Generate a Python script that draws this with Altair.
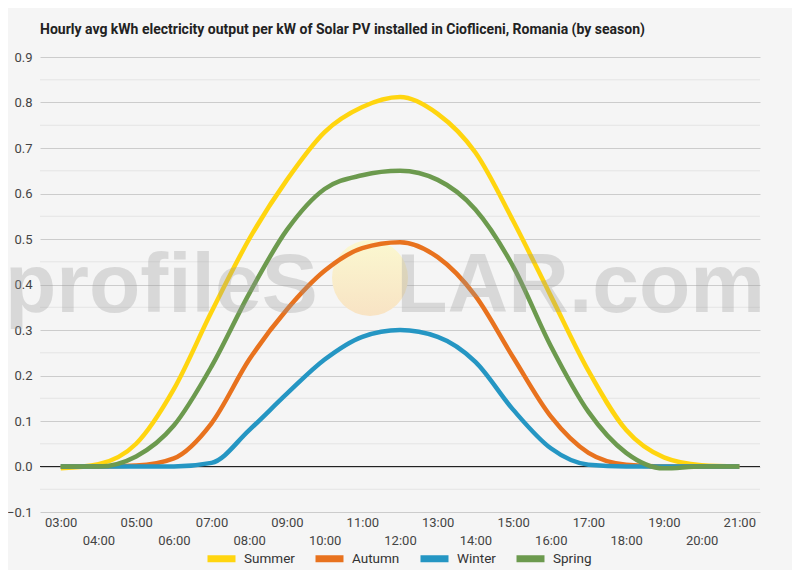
import altair as alt
import pandas as pd

hours = ["03:00", "04:00", "05:00", "06:00", "07:00", "08:00", "09:00", "10:00",
         "11:00", "12:00", "13:00", "14:00", "15:00", "16:00", "17:00", "18:00",
         "19:00", "20:00", "21:00"]
summer = [-0.004, 0.005, 0.05, 0.17, 0.34, 0.50, 0.63, 0.735, 0.79, 0.812,
          0.775, 0.69, 0.54, 0.375, 0.21, 0.08, 0.02, 0.003, 0.0]
autumn = [0.0, 0.0, 0.002, 0.018, 0.095, 0.235, 0.345, 0.43, 0.48, 0.493,
          0.46, 0.375, 0.24, 0.11, 0.03, 0.004, 0.0, 0.0, 0.0]
winter = [0.0, 0.0, 0.0, 0.0, 0.008, 0.08, 0.16, 0.235, 0.285, 0.30,
          0.285, 0.23, 0.125, 0.04, 0.004, 0.0, 0.0, 0.0, 0.0]
spring = [0.0, 0.0, 0.022, 0.09, 0.22, 0.38, 0.52, 0.61, 0.64, 0.65,
          0.63, 0.565, 0.44, 0.265, 0.12, 0.03, -0.004, 0.0, 0.0]

seasons = ["Summer", "Autumn", "Winter", "Spring"]
colors = ["#FFD50F", "#E8721E", "#2596C3", "#6C9A4E"]

major_ticks = [-0.1, 0.0, 0.1, 0.2, 0.3, 0.4, 0.5, 0.6, 0.7, 0.8, 0.9]
minor_ticks = [-0.05, 0.05, 0.15, 0.25, 0.35, 0.45, 0.55, 0.65, 0.75, 0.85]

rows = []
for name, vals in zip(seasons, [summer, autumn, winter, spring]):
    for h, v in zip(hours, vals):
        rows.append({"hour": h, "value": v, "season": name})
df = pd.DataFrame(rows)

y_scale = alt.Scale(domain=[-0.1, 0.9], nice=False, zero=False)

minor = alt.Chart(pd.DataFrame({"v": minor_ticks})).mark_rule(
    color="#e4e4e4", strokeWidth=1
).encode(y=alt.Y("v:Q", scale=y_scale))

zero = alt.Chart(pd.DataFrame({"v": [0.0]})).mark_rule(
    color="#222222", strokeWidth=1
).encode(y=alt.Y("v:Q", scale=y_scale))

sun_fill = alt.Gradient(
    gradient="linear",
    stops=[alt.GradientStop(color="#fbf8d0", offset=0),
           alt.GradientStop(color="#f8e3c4", offset=1)],
    x1=0, x2=0, y1=0, y2=1,
)
sun = alt.Chart(pd.DataFrame({"a": [0]})).mark_point(
    shape="circle", filled=True, size=5776, fill=sun_fill, opacity=1, strokeOpacity=0
).encode(x=alt.value(330), y=alt.value(221))

lines = alt.Chart(df).mark_line(strokeWidth=4.5, interpolate="monotone").encode(
    x=alt.X(
        "hour:N", sort=hours, scale=alt.Scale(padding=0.55),
        axis=alt.Axis(
            title=None, labelAngle=0, ticks=False, domain=False, grid=False,
            labelExpr="parseInt(substring(datum.value,0,2)) % 2 == 0 ? ['', datum.label] : datum.label",
            labelOverlap=False, labelFont="Roboto", labelFontSize=13,
            labelColor="#444444", labelPadding=4, labelLineHeight=18,
        ),
    ),
    y=alt.Y(
        "value:Q", scale=y_scale,
        axis=alt.Axis(
            title=None, values=major_ticks, format=".1f", grid=True,
            gridColor="#cccccc", ticks=False, domain=False, labelPadding=8,
            labelFont="Roboto", labelFontSize=13, labelColor="#444444",
        ),
    ),
    color=alt.Color(
        "season:N", sort=seasons,
        scale=alt.Scale(domain=seasons, range=colors),
        legend=alt.Legend(
            title=None, orient="none", direction="horizontal",
            legendX=164, legendY=484,
            symbolType="stroke", symbolStrokeWidth=7, symbolSize=784,
            labelFont="Roboto", labelFontSize=13.5, labelColor="#333333",
            labelOffset=5, columnPadding=6,
        ),
    ),
    detail="season:N",
)

wm_left = alt.Chart(pd.DataFrame({"a": [0]})).mark_text(
    text="profileS", font="Liberation Sans", fontWeight="bold", fontSize=84,
    color="#999999", opacity=0.3, align="left", baseline="alphabetic",
).encode(x=alt.value(-35), y=alt.value(255))

wm_right = alt.Chart(pd.DataFrame({"a": [0]})).mark_text(
    text="LAR.com", font="Liberation Sans", fontWeight="bold", fontSize=84,
    color="#999999", opacity=0.3, align="right", baseline="alphabetic",
).encode(x=alt.value(725), y=alt.value(255))

chart = alt.layer(minor, zero, sun, lines, wm_left, wm_right).properties(
    width=720,
    height=455,
    background="#f5f5f5",
    padding={"left": 32, "top": 49, "right": 32, "bottom": 58},
    autosize=alt.AutoSizeParams(type="none"),
    title=alt.TitleParams(
        "Hourly avg kWh electricity output per kW of Solar PV installed in Ciofliceni, Romania (by season)",
        anchor="start", frame="group", font="Roboto", fontSize=14,
        fontWeight="bold", color="#222222", offset=14,
    ),
).configure_view(stroke=None)

chart.save("out.html", embed_options={"renderer": "svg", "actions": False})
